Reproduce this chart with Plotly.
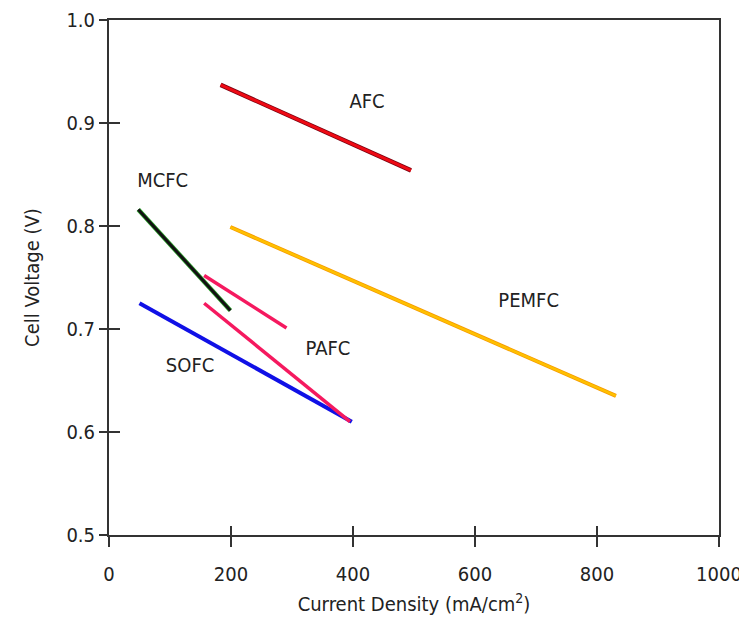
import plotly.graph_objects as go

# Data (current density mA/cm2, cell voltage V)
afc_x = [183, 495]
afc_y = [0.937, 0.854]
mcfc_x = [48, 199]
mcfc_y = [0.816, 0.718]
pafc_hi_x = [156, 291]
pafc_hi_y = [0.752, 0.701]
pafc_lo_x = [156, 395]
pafc_lo_y = [0.725, 0.610]
sofc_x = [50, 398]
sofc_y = [0.725, 0.610]
pemfc_x = [199, 831]
pemfc_y = [0.799, 0.635]

label_text = ["AFC", "MCFC", "PAFC", "SOFC", "PEMFC"]
label_x = [423, 88, 359, 133, 688]
label_y = [0.919, 0.843, 0.680, 0.663, 0.726]

x_ticks = [0, 200, 400, 600, 800, 1000]
y_ticks = [0.5, 0.6, 0.7, 0.8, 0.9, 1.0]
y_ticktext = ["0.5", "0.6", "0.7", "0.8", "0.9", "1.0"]

FONT = "DejaVu Sans Condensed, Liberation Sans Narrow, Arial, sans-serif"
TXT = "#222222"
AX = "#333333"
FS = 20

fig = go.Figure()

def line(x, y, color, width):
    fig.add_trace(go.Scatter(x=x, y=y, mode="lines",
                             line=dict(color=color, width=width),
                             showlegend=False, hoverinfo="skip"))

line(afc_x, afc_y, "#7a0010", 4.5)
line(afc_x, afc_y, "#ee0a14", 3)
line(pemfc_x, pemfc_y, "#f59a00", 4)
line(pemfc_x, pemfc_y, "#ffc000", 2.5)
line(sofc_x, sofc_y, "#1010e6", 4)
line(pafc_hi_x, pafc_hi_y, "#f5195f", 3.5)
line(pafc_lo_x, pafc_lo_y, "#f5195f", 3.5)
line(mcfc_x, mcfc_y, "#2aa02a", 4.5)
line(mcfc_x, mcfc_y, "#111111", 3)

fig.add_trace(go.Scatter(x=label_x, y=label_y, text=label_text, mode="text",
                         textfont=dict(family=FONT, size=FS, color=TXT),
                         showlegend=False, hoverinfo="skip"))

# invisible trace to carry the inner tick marks overlay axes
fig.add_trace(go.Scatter(x=sofc_x, y=sofc_y, mode="lines", opacity=0,
                         xaxis="x2", yaxis="y2", showlegend=False,
                         hoverinfo="skip"))

fig.update_layout(
    width=747, height=633,
    margin=dict(l=101, r=36, t=12, b=106),
    paper_bgcolor="white", plot_bgcolor="white",
    font=dict(family=FONT, size=FS, color=TXT),
    xaxis=dict(range=[0, 1000], tickvals=x_ticks, ticks="outside", ticklen=10,
               tickwidth=2, tickcolor=AX, showline=True, linecolor=AX,
               linewidth=2, mirror=True, showgrid=False, zeroline=False,
               automargin=False, ticklabelstandoff=10,
               title=dict(text="Current Density (mA/cm<sup>2</sup>)",
                          font=dict(family=FONT, size=FS, color=TXT), standoff=12),
               tickfont=dict(family=FONT, size=FS, color=TXT)),
    yaxis=dict(range=[0.5, 1.0], tickvals=y_ticks, ticktext=y_ticktext,
               ticks="outside", ticklen=8,
               tickwidth=2, tickcolor=AX, showline=True, linecolor=AX,
               linewidth=2, mirror=True, showgrid=False, zeroline=False,
               automargin=False,
               title=dict(text="Cell Voltage (V)",
                          font=dict(family=FONT, size=FS, color=TXT), standoff=21),
               tickfont=dict(family=FONT, size=FS, color=TXT)),
    xaxis2=dict(range=[0, 1000], tickvals=x_ticks, ticks="inside", ticklen=9,
                tickwidth=2, tickcolor=AX, showticklabels=False, showgrid=False,
                zeroline=False, overlaying="x", anchor="y2", side="bottom",
                automargin=False),
    yaxis2=dict(range=[0.5, 1.0], tickvals=y_ticks, ticks="inside", ticklen=11,
                tickwidth=2, tickcolor=AX, showticklabels=False, showgrid=False,
                zeroline=False, overlaying="y", anchor="x2", side="left",
                automargin=False),
)

fig.write_html("out.html")
